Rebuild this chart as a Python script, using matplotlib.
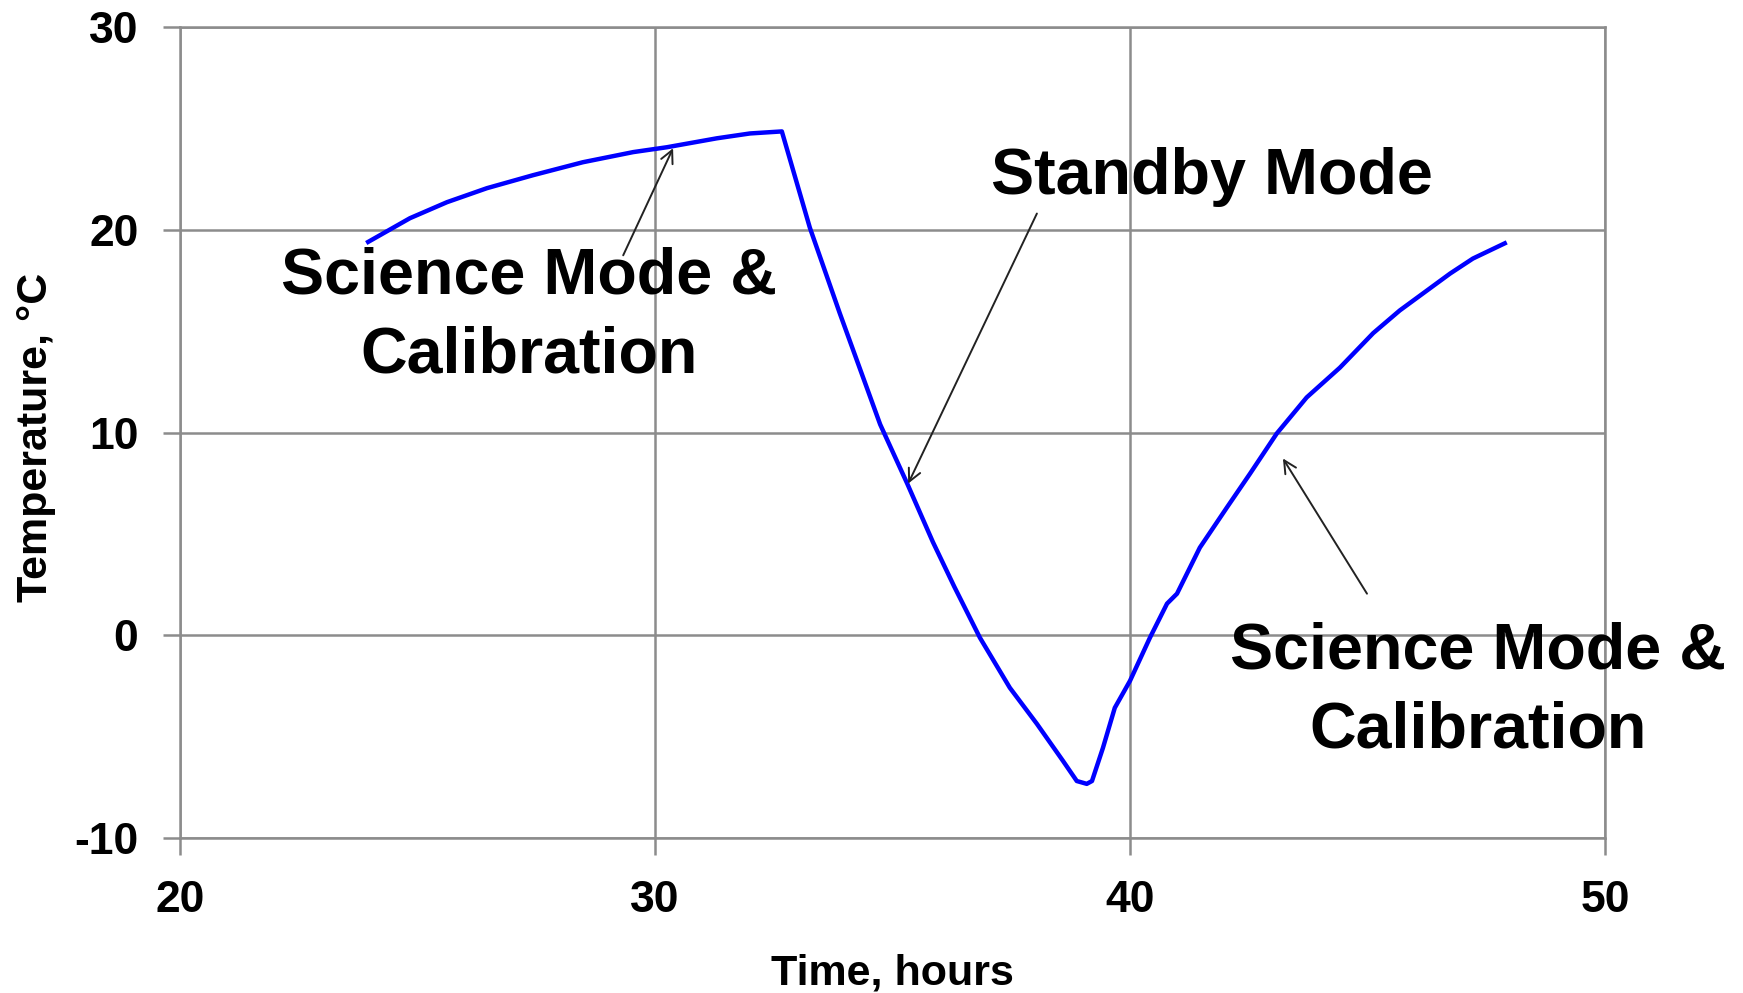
import matplotlib.pyplot as plt

plt.rcParams["font.family"] = ["Liberation Sans", "DejaVu Sans"]
plt.rcParams["font.weight"] = "bold"
plt.rcParams["axes.unicode_minus"] = False

# temperature trace read over one science / standby / science cycle
time_h = [23.96, 24.84, 25.62, 26.46, 27.43, 28.48, 29.54, 30.25, 31.30, 32.00,
          32.67, 33.26, 33.89, 34.74, 35.31, 35.85, 36.30, 36.84, 37.47,
          38.04, 38.59, 38.88, 39.09, 39.20, 39.43, 39.68, 40.00, 40.42, 40.78,
          40.99, 41.47, 42.04, 42.53, 43.09, 43.72, 44.42, 45.12, 45.68, 46.74,
          47.22, 47.89]
temp_c = [19.40, 20.57, 21.36, 22.05, 22.69, 23.33, 23.83, 24.07, 24.51, 24.75,
          24.85, 20.10, 15.88, 10.40, 7.48, 4.60, 2.40, -0.12, -2.59,
          -4.37, -6.20, -7.19, -7.33, -7.19, -5.56, -3.58, -2.25, -0.12, 1.56,
          2.05, 4.32, 6.30, 7.98, 9.95, 11.73, 13.20, 14.90, 16.02, 17.84,
          18.58, 19.33]

x_ticks = [20, 30, 40, 50]
y_ticks = [-10, 0, 10, 20, 30]

# mode labels: text centre, arrow tail, arrow head (data coords)
mode_labels = ["Science Mode &\nCalibration", "Standby Mode", "Science Mode &\nCalibration"]
label_xy = [(27.35, 15.75), (41.73, 22.6), (47.33, -2.75)]
arrow_tail = [(29.33, 18.74), (38.04, 20.8), (44.99, 2.05)]
arrow_head = [(30.38, 24.02), (35.33, 7.48), (43.22, 8.72)]

fig = plt.figure(figsize=(17.43, 9.93), dpi=100)
ax = fig.add_axes([0.1033, 0.1561, 0.8175, 0.8167])

grid_col = "#8c8c8c"
ax.plot(time_h, temp_c, color="#0000ff", lw=3.2, solid_joinstyle="round", zorder=3)

ax.set_xlim(20, 50)
ax.set_ylim(-10, 30)
ax.set_xticks(x_ticks)
ax.set_yticks(y_ticks)
ax.grid(True, color=grid_col, lw=1.8)
for s in ax.spines.values():
    s.set_color(grid_col)
    s.set_linewidth(1.8)
ax.tick_params(axis="both", direction="out", length=12, width=1.8, color=grid_col,
               labelsize=32, pad=18)

for txt, (tx, ty) in zip(mode_labels, label_xy):
    ax.text(tx, ty, txt, fontsize=46.5, fontweight="bold", ha="center", va="center",
            multialignment="center", linespacing=1.4, zorder=4)

for (x0, y0), (x1, y1) in zip(arrow_tail, arrow_head):
    ax.annotate("", xy=(x1, y1), xytext=(x0, y0),
                arrowprops=dict(arrowstyle="->,head_length=0.9,head_width=0.45",
                                color="#222222", lw=1.4, shrinkA=0, shrinkB=0),
                zorder=5)

# common labels
fig.text(0.5121, 0.009, "Time, hours", ha="center", va="baseline", fontsize=31,
         fontweight="bold")
fig.text(0.0207, 0.56, "Temperature, °C", ha="center", va="center", rotation=90,
         fontsize=31, fontweight="bold")

fig.savefig("out.png", dpi=100)
